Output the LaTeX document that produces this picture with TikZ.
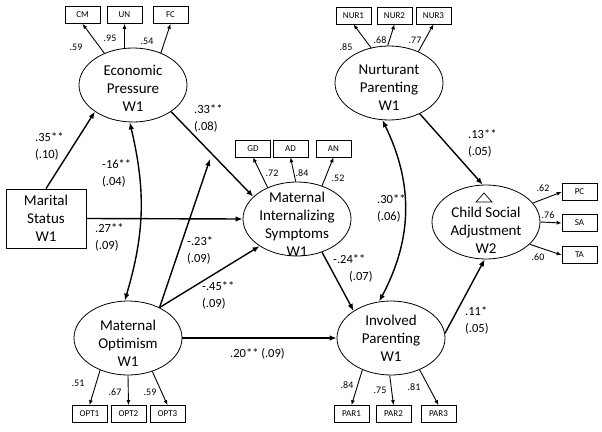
\documentclass[tikz,border=0pt]{standalone}
\usepackage{fontspec}
\setmainfont{Carlito}
\usetikzlibrary{shapes.geometric, arrows.meta}

\begin{document}
\begin{tikzpicture}[
        x=1pt, y=-1pt,
        font=\fontsize{15}{18}\selectfont,
        latente/.style={
            draw, ellipse, line width=0.8pt,
            minimum width=108pt, minimum height=74pt, inner sep=0pt
        },
        rotulo/.style={align=center},
        medida/.style={
            draw, line width=0.7pt, minimum width=35pt, minimum height=17pt,
            inner sep=1pt, font=\fontsize{9}{10}\selectfont
        },
        carga/.style={-{Latex[length=5pt,width=4pt]}, line width=0.9pt},
        caminho/.style={-{Latex[length=7pt,width=5.5pt]}, line width=1.4pt},
        duplo/.style={{Latex[length=7pt,width=5.5pt]}-{Latex[length=7pt,width=5.5pt]}, line width=1.4pt},
        coef/.style={align=left, anchor=west, inner sep=0pt, font=\fontsize{12.5}{17}\selectfont},
        peso/.style={inner sep=0pt, font=\fontsize{10}{12}\selectfont}
    ]

    \useasboundingbox (0,0) rectangle (602,431);

    % Variáveis latentes
    \node[latente] (ep) at (133,85) {};
    \node[latente] (mo) at (128,338) {};
    \node[latente] (mis) at (297,219) {};
    \node[latente] (np) at (389,83) {};
    \node[latente] (ip) at (391,338) {};
    \node[latente] (csa) at (486,222) {};
    \node[draw, line width=0.8pt, minimum width=80pt, minimum height=59pt, align=center] (ms) at (46,218.5) {Marital\\Status\\W1};

    \node[rotulo] (ept) at (133,88) {Economic\\Pressure\\W1};
    \node[rotulo] (mot) at (128,343) {Maternal\\Optimism\\W1};
    \node[rotulo] (mist) at (297,224) {Maternal\\Internalizing\\Symptoms\\W1};
    \node[rotulo] (npt) at (389,88) {Nurturant\\Parenting\\W1};
    \node[rotulo] (ipt) at (391,338) {Involved\\Parenting\\W1};
    \node[rotulo] (csat) at (486,230) {Child Social\\Adjustment\\W2};
    \draw[line width=0.7pt] (476,202) -- (484,193) -- (492,202) -- cycle;

    % Indicadores
    \node[medida] (cm) at (82.5,15) {CM};
    \node[medida] (un) at (124.5,15) {UN};
    \node[medida] (fc) at (170.5,15) {FC};
    \node[medida] (gd) at (253,148.5) {GD};
    \node[medida] (ad) at (290.5,148.5) {AD};
    \node[medida] (an) at (333.5,148.5) {AN};
    \node[medida] (nur1) at (353.5,15.5) {NUR1};
    \node[medida] (nur2) at (394.5,15.5) {NUR2};
    \node[medida] (nur3) at (433.5,15.5) {NUR3};
    \node[medida] (pc) at (579.5,192) {PC};
    \node[medida] (sa) at (579.5,223) {SA};
    \node[medida] (ta) at (579.5,255) {TA};
    \node[medida] (opt1) at (89.5,414) {OPT1};
    \node[medida] (opt2) at (128.5,414) {OPT2};
    \node[medida] (opt3) at (167.5,414) {OPT3};
    \node[medida] (par1) at (351.5,414) {PAR1};
    \node[medida] (par2) at (393.5,414) {PAR2};
    \node[medida] (par3) at (438.5,414) {PAR3};

    % Cargas fatoriais
    \draw[carga] (ep.132) -- (cm.south);
    \draw[carga] (ep.103) -- (un.south);
    \draw[carga] (ep.49) -- (fc.south);
    \draw[carga] (mis.133) -- (gd.south);
    \draw[carga] (mis.92) -- (ad.south);
    \draw[carga] (mis.53) -- (an.south);
    \draw[carga] (np.117) -- (nur1.south);
    \draw[carga] (np.92) -- (nur2.south);
    \draw[carga] (np.47) -- (nur3.south);
    \draw[carga] (csa.22) -- (pc.west);
    \draw[carga] (csa.0) -- (sa.west);
    \draw[carga] (csa.333) -- (ta.west);
    \draw[carga] (mo.229) -- (opt1.north);
    \draw[carga] (mo.270) -- (opt2.north);
    \draw[carga] (mo.306) -- (opt3.north);
    \draw[carga] (ip.228) -- (par1.north);
    \draw[carga] (ip.268) -- (par2.north);
    \draw[carga] (ip.312) -- (par3.north);

    \node[peso] (lcm) at (76,47) {.59};
    \node[peso] (lun) at (110,38) {.95};
    \node[peso] (lfc) at (147,41) {.54};
    \node[peso] (lgd) at (272,173) {.72};
    \node[peso] (lad) at (302,173) {.84};
    \node[peso] (lan) at (338,178) {.52};
    \node[peso] (lnur1) at (346,47) {.85};
    \node[peso] (lnur2) at (380,40) {.68};
    \node[peso] (lnur3) at (415,40) {.77};
    \node[peso] (lpc) at (543,188) {.62};
    \node[peso] (lsa) at (548,215) {.76};
    \node[peso] (lta) at (538,257) {.60};
    \node[peso] (lopt1) at (78,383) {.51};
    \node[peso] (lopt2) at (115,392) {.67};
    \node[peso] (lopt3) at (150,392) {.59};
    \node[peso] (lpar1) at (347,385) {.84};
    \node[peso] (lpar2) at (380,390) {.75};
    \node[peso] (lpar3) at (414,387) {.81};

    % Caminhos estruturais
    \coordinate (modpt) at (210,159);
    \draw[caminho] (ms.north) -- (ep.215);
    \draw[caminho] (ms.east) -- (mis.west);
    \draw[duplo] (ep.265) to[bend left=15] (mo.95);
    \draw[caminho] (ep.325) -- (mis.153);
    \draw[caminho] (mo.44) -- (modpt);
    \draw[caminho] (mo.44) -- (mis.216);
    \draw[caminho] (mo.east) -- (ip.west);
    \draw[caminho] (mis.307) -- (ip.144);
    \draw[duplo] (np.260) to[bend left=27] (ip.108);
    \draw[caminho] (np.315) -- (csa.95);
    \draw[caminho] (ip.5) -- (csa.268);

    \node[coef] (c-ms-ep) at (35,146) {.35**\\(.10)};
    \node[coef] (c-ms-mis) at (95,237) {.27**\\(.09)};
    \node[coef] (c-ep-mo) at (102,173) {-16**\\(.04)};
    \node[coef] (c-ep-mis) at (194,118) {.33**\\(.08)};
    \node[coef] (c-mod) at (187,250) {-.23*\\(.09)};
    \node[coef] (c-mo-mis) at (202,295) {-.45**\\(.09)};
    \node[coef] (c-mo-ip) at (230,354) {.20** (.09)};
    \node[coef] (c-mis-ip) at (333,268) {-.24**\\\hspace*{16pt}(.07)};
    \node[coef] (c-np-ip) at (377,208) {.30**\\(.06)};
    \node[coef] (c-np-csa) at (468,143) {.13**\\(.05)};
    \node[coef] (c-ip-csa) at (465,320) {.11*\\(.05)};

\end{tikzpicture}
\end{document}
